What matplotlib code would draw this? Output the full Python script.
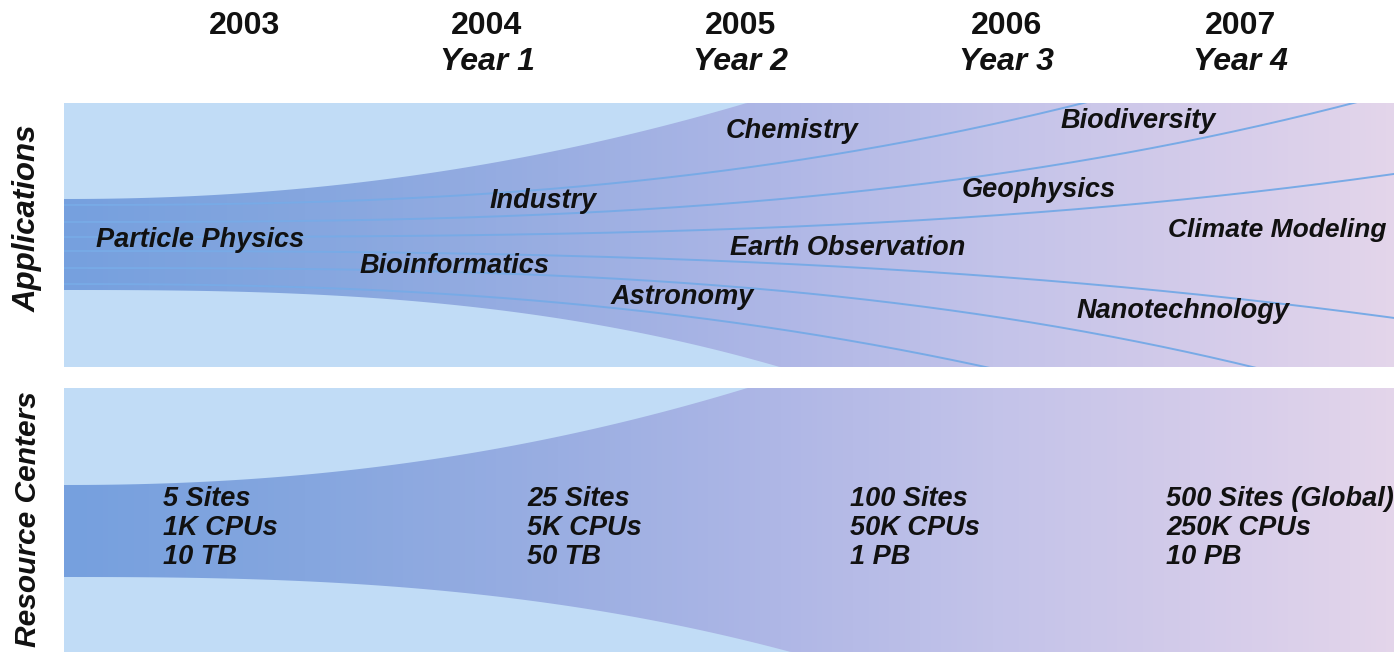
import numpy as np
import matplotlib
matplotlib.use("Agg")
import matplotlib.pyplot as plt
from matplotlib import font_manager
from matplotlib.colors import LinearSegmentedColormap
from matplotlib.patches import Polygon, Rectangle

# --- data -------------------------------------------------------------
years = ["2003", "2004", "2005", "2006", "2007"]
year_names = ["", "Year 1", "Year 2", "Year 3", "Year 4"]

applications = ["Particle Physics", "Industry", "Bioinformatics", "Chemistry",
                "Astronomy", "Earth Observation", "Biodiversity", "Geophysics",
                "Climate Modeling", "Nanotechnology"]

sites = ["5 Sites", "25 Sites", "100 Sites", "500 Sites (Global)"]
cpus = ["1K CPUs", "5K CPUs", "50K CPUs", "250K CPUs"]
storage = ["10 TB", "50 TB", "1 PB", "10 PB"]

# --- layout (pixel space) --------------------------------------------
W, H = 1394, 652
year_x = [245, 487, 740, 1006, 1240]
app_xy = [(200, 240), (543, 201), (455, 266), (792, 131), (682, 297),
          (848, 248), (1138, 121), (1039, 190), (1168, 230), (1183, 311)]
app_ha = ["center"] * 8 + ["left", "center"]
res_x = [163, 527, 850, 1166]
res_rows = [499, 528, 557]

top_panel = (64, 103, 367)      # x0, y_top, y_bottom
bot_panel = (64, 388, 652)

# funnel edges: (start y, growth, power)
top_funnel = [(199, -214, 2.1), (290, 190, 2.7)]
bot_funnel = [(485, -220, 2.15), (577, 172, 2.6)]
# fan lines in the applications panel
fan = [(205, -97.2, 2.5), (222, -58.4, 2.8), (237, -26.8, 3.0),
       (251, 31, 2.7), (268, 60, 2.9), (284, 101, 2.4)]

bg_color = "#c1dcf6"
line_color = "#78aae6"
grad = LinearSegmentedColormap.from_list("grid", [
    (0.00, "#76a0de"), (0.18, "#85a6df"), (0.37, "#9aaee2"),
    (0.54, "#afb7e6"), (0.70, "#c3c3e9"), (0.85, "#d3cbea"),
    (1.00, "#e3d5ea")])

names = {f.name for f in font_manager.fontManager.ttflist}
narrow = "Liberation Sans Narrow" if "Liberation Sans Narrow" in names else "Liberation Sans"
plt.rcParams["font.family"] = ["Liberation Sans", "DejaVu Sans"]


def spread(x, y0, s, p):
    t = np.clip((x - 64) / 1000.0, 0, None)
    return y0 + s * t ** p


fig = plt.figure(figsize=(W / 100, H / 100), dpi=100)
ax = fig.add_axes([0, 0, 1, 1])
ax.set_xlim(0, W)
ax.set_ylim(H, 0)
ax.axis("off")

xs = np.linspace(64, W, 600)
for (x0, y_top, y_bot), edges in [(top_panel, top_funnel), (bot_panel, bot_funnel)]:
    ax.add_patch(Rectangle((x0, y_top), W - x0, y_bot - y_top,
                           facecolor=bg_color, edgecolor="none", zorder=1))
    upper = np.maximum(spread(xs, *edges[0]), y_top)
    lower = np.minimum(spread(xs, *edges[1]), y_bot)
    poly = Polygon(np.column_stack([np.r_[xs, xs[::-1]], np.r_[upper, lower[::-1]]]),
                   closed=True, facecolor="none", edgecolor="none")
    ax.add_patch(poly)
    img = ax.imshow(np.linspace(0, 1, 256)[None, :], cmap=grad, aspect="auto",
                    extent=(x0, W, y_bot, y_top), zorder=2, interpolation="bilinear")
    img.set_clip_path(poly)

# fan of application lines
clip = Rectangle((top_panel[0], top_panel[1]), W - top_panel[0],
                 top_panel[2] - top_panel[1], transform=ax.transData)
for y0, s, p in fan:
    ln, = ax.plot(xs, spread(xs, y0, s, p), color=line_color, lw=1.4, zorder=3)
    ln.set_clip_path(clip)

# year header
for yr, nm, x in zip(years, year_names, year_x):
    ax.text(x, 26, yr, ha="center", va="center", fontsize=23,
            fontweight="bold", family=narrow, color="#111111")
    if nm:
        ax.text(x, 62, nm, ha="center", va="center", fontsize=23,
                fontweight="bold", style="italic", family=narrow, color="#111111")

# panel titles
ax.text(28, 218, "Applications", rotation=90, ha="center", va="center",
        fontsize=22.5, fontweight="bold", style="italic", color="#111111")
ax.text(28, 519, "Resource Centers", rotation=90, ha="center", va="center",
        fontsize=21.5, fontweight="bold", style="italic", color="#111111")

# application labels
for name, (x, y), ha in zip(applications, app_xy, app_ha):
    size = 19 if ha == "left" else 19.5
    ax.text(x, y, name, ha=ha, va="center", fontsize=size,
            fontweight="bold", style="italic", color="#111111", zorder=5)

# resource centre figures
for x, a, b, c in zip(res_x, sites, cpus, storage):
    for row, label in zip(res_rows, [a, b, c]):
        ax.text(x, row, label, ha="left", va="center", fontsize=19.5,
                fontweight="bold", style="italic", color="#111111", zorder=5)

fig.savefig("out.png", dpi=100, facecolor="white")
